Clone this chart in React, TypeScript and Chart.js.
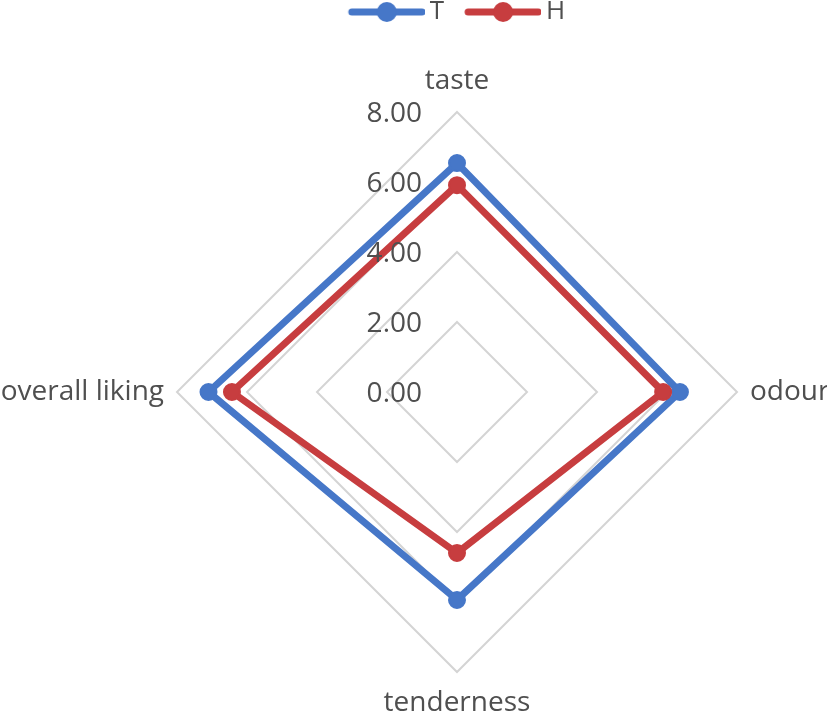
import React, { useEffect, useRef } from "react";
import { Chart, registerables } from "chart.js";

Chart.register(...registerables);

// ---- data ----
const categories = ["taste", "odour", "tenderness", "overall liking"];
const seriesNames = ["T", "H"];
const seriesT = [6.54, 6.37, 5.94, 7.1];
const seriesH = [5.91, 5.89, 4.6, 6.43];
const tickValues = [0, 2, 4, 6, 8];
const tickLabels = ["0.00", "2.00", "4.00", "6.00", "8.00"];

// ---- styles ----
const BLUE = "#4677c8";
const RED = "#c73d3f";
const TEXT = "#4f4f4f";
const GRID = "#d4d4d4";
const FONT = "'Open Sans', 'Liberation Sans', sans-serif";

function legendIcon(color: string): HTMLCanvasElement {
  const c = document.createElement("canvas");
  c.width = 84;
  c.height = 26;
  const ctx = c.getContext("2d") as CanvasRenderingContext2D;
  ctx.strokeStyle = color;
  ctx.lineWidth = 7;
  ctx.lineCap = "round";
  ctx.beginPath();
  ctx.moveTo(11, 13);
  ctx.lineTo(81, 13);
  ctx.stroke();
  ctx.fillStyle = color;
  ctx.beginPath();
  ctx.arc(46, 13, 10, 0, Math.PI * 2);
  ctx.fill();
  return c;
}

const radarTextPlugin = {
  id: "radarText",
  afterDraw(chart: any) {
    const scale = chart.scales.r;
    const ctx = chart.ctx as CanvasRenderingContext2D;
    ctx.save();
    ctx.font = `28px ${FONT}`;
    ctx.fillStyle = TEXT;
    ctx.textBaseline = "middle";
    // tick labels, left of the vertical axis
    ctx.textAlign = "right";
    tickValues.forEach((v, i) => {
      const d = scale.getDistanceFromCenterForValue(v);
      ctx.fillText(tickLabels[i], scale.xCenter - 35, scale.yCenter - d + 2);
    });
    // point labels
    (chart.data.labels as string[]).forEach((lab, i) => {
      const deg = Math.round((scale.getIndexAngle(i) * 180) / Math.PI) % 360;
      const vertical = deg === 0 || deg === 180;
      const pad = vertical ? 31 : 13;
      const p = scale.getPointPosition(i, scale.drawingArea + pad);
      ctx.textAlign = vertical ? "center" : deg < 180 ? "left" : "right";
      ctx.fillText(lab, p.x, p.y);
    });
    ctx.restore();
  },
};

export default function App() {
  const ref = useRef<HTMLCanvasElement | null>(null);

  useEffect(() => {
    if (!ref.current) return;
    const icons = [legendIcon(BLUE), legendIcon(RED)];
    const chart = new Chart(ref.current, {
      type: "radar",
      data: {
        labels: categories,
        datasets: [
          {
            label: seriesNames[0],
            data: seriesT,
            borderColor: BLUE,
            backgroundColor: BLUE,
            borderWidth: 7,
            borderJoinStyle: "round",
            pointRadius: 8,
            pointBorderWidth: 2,
            pointBackgroundColor: BLUE,
            pointBorderColor: BLUE,
            fill: false,
            order: 1,
          },
          {
            label: seriesNames[1],
            data: seriesH,
            borderColor: RED,
            backgroundColor: RED,
            borderWidth: 7,
            borderJoinStyle: "round",
            pointRadius: 8,
            pointBorderWidth: 2,
            pointBackgroundColor: RED,
            pointBorderColor: RED,
            fill: false,
            order: 0,
          },
        ],
      },
      options: {
        responsive: false,
        animation: false,
        devicePixelRatio: 1,
        layout: { padding: { left: 177, right: 90, top: 0, bottom: 0 }, autoPadding: false },
        plugins: {
          legend: {
            position: "top",
            labels: {
              usePointStyle: true,
              pointStyleWidth: 68,
              padding: 21,
              color: TEXT,
              font: { family: FONT, size: 26 },
              generateLabels: (c: any) => {
                const items = (Chart.defaults.plugins.legend.labels as any).generateLabels(c);
                return items
                  .sort((a: any, b: any) => a.datasetIndex - b.datasetIndex)
                  .map((it: any) => ({ ...it, pointStyle: icons[it.datasetIndex], fontColor: TEXT }));
              },
            },
          },
          tooltip: { enabled: false },
        },
        scales: {
          r: {
            min: 0,
            max: 8,
            ticks: { stepSize: 2, display: false },
            grid: { color: GRID, lineWidth: 2 },
            angleLines: { display: false },
            pointLabels: { display: false },
          },
        },
      } as any,
      plugins: [radarTextPlugin],
    });
    return () => chart.destroy();
  }, []);

  return (
    <div
      style={{
        position: "fixed",
        left: 0,
        top: 0,
        width: 827,
        height: 714,
        overflow: "hidden",
        background: "#ffffff",
      }}
    >
      <canvas
        ref={ref}
        width={827}
        height={771}
        style={{ position: "absolute", left: 0, top: -22 }}
      />
    </div>
  );
}
